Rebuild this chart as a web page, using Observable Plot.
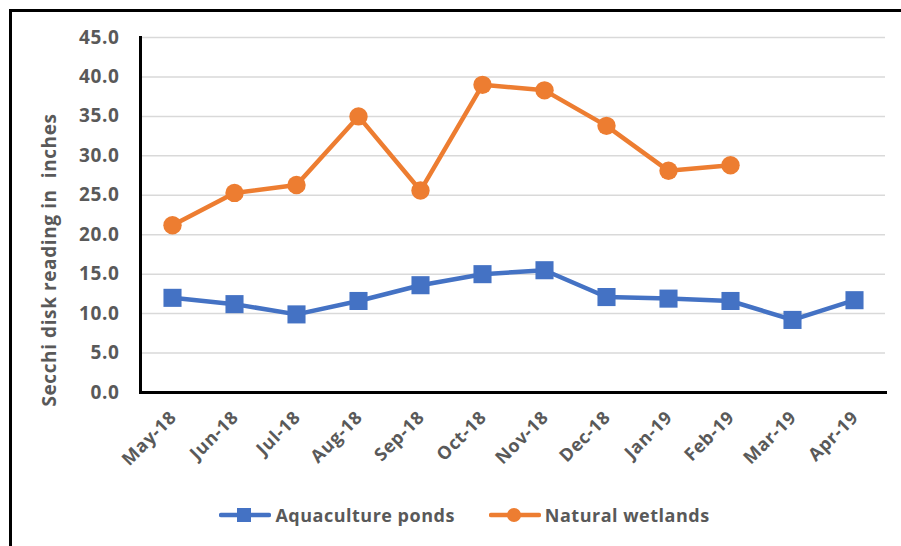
<!DOCTYPE html>
<html>
<head>
<meta charset="utf-8">
<script src="https://cdn.jsdelivr.net/npm/d3@7"></script>
<script src="https://cdn.jsdelivr.net/npm/@observablehq/plot@0.6"></script>
<style>
  html, body { margin: 0; padding: 0; background: #fff; overflow: hidden; }
  body { width: 901px; height: 546px; position: relative; font-family: "Open Sans", sans-serif; }
  #border { position: absolute; left: 9px; top: 9px; width: 1000px; height: 1000px; border: 3px solid #000; box-sizing: border-box; pointer-events: none; }
  #chart { position: absolute; left: 0; top: 0; }
  #ytitle { position: absolute; left: 49px; top: 260px; transform: translate(-50%, -50%) rotate(-90deg); white-space: pre; font-weight: 700; font-size: 19px; letter-spacing: 0.6px; color: #595959; line-height: 1; }
  #legend { position: absolute; left: 0; top: 503px; width: 901px; box-sizing: border-box; padding-left: 28px; display: flex; justify-content: center; align-items: center; font-weight: 700; font-size: 18px; letter-spacing: 0.5px; color: #595959; }
  .item { display: flex; align-items: center; }
  .item svg { margin-right: 4px; }
  svg text { font-family: "Open Sans", sans-serif; letter-spacing: 0.6px; }
</style>
</head>
<body>
<div id="chart"></div>
<div id="border"></div>
<div id="ytitle"></div>
<div id="legend"></div>
<script>
const months = ["May-18","Jun-18","Jul-18","Aug-18","Sep-18","Oct-18","Nov-18","Dec-18","Jan-19","Feb-19","Mar-19","Apr-19"];
const aquaculture = [12.0, 11.2, 9.9, 11.6, 13.6, 15.0, 15.5, 12.1, 11.9, 11.6, 9.2, 11.7];
const wetlands = [21.2, 25.3, 26.3, 35.0, 25.6, 39.0, 38.3, 33.8, 28.1, 28.8];
const yTicks = [0, 5, 10, 15, 20, 25, 30, 35, 40, 45];
const seriesNames = ["Aquaculture ponds", "Natural wetlands"];
const seriesColors = ["#4472C4", "#ED7D31"];
const yTitle = "Secchi disk reading in  inches";

const aqua = aquaculture.map((v, i) => ({month: months[i], value: v, series: seriesNames[0]}));
const wet = wetlands.map((v, i) => ({month: months[i], value: v, series: seriesNames[1]}));

const plot = Plot.plot({
  width: 901,
  height: 546,
  marginTop: 37,
  marginLeft: 140,
  marginRight: 16,
  marginBottom: 154,
  style: {fontFamily: "Open Sans, sans-serif", fontSize: "18px", fontWeight: 700, color: "#595959", background: "transparent"},
  x: {type: "point", domain: months, padding: 0.5},
  y: {domain: [0, 45]},
  marks: [
    Plot.gridY(yTicks, {stroke: "#D9D9D9", strokeOpacity: 1, strokeWidth: 1.5}),
    Plot.axisY(yTicks, {tickSize: 0, tickPadding: 21, tickFormat: d => d.toFixed(1), fill: "#595959", fontWeight: 700, fontSize: 19, label: null}),
    Plot.axisX({ticks: [], label: null}),
    Plot.text(months, {x: d => d, frameAnchor: "bottom", rotate: -45, textAnchor: "end", lineAnchor: "bottom", dx: 5, dy: 26, fill: "#595959", fontWeight: 700, fontSize: 18}),
    Plot.frame({anchor: "left", stroke: "#000", strokeWidth: 3}),
    Plot.frame({anchor: "bottom", stroke: "#000", strokeWidth: 3}),
    Plot.line(aqua, {x: "month", y: "value", stroke: seriesColors[0], strokeWidth: 4.5}),
    Plot.dot(aqua, {x: "month", y: "value", symbol: "square", fill: seriesColors[0], r: 10.2, stroke: null}),
    Plot.line(wet, {x: "month", y: "value", stroke: seriesColors[1], strokeWidth: 4.5}),
    Plot.dot(wet, {x: "month", y: "value", symbol: "circle", fill: seriesColors[1], r: 9.2, stroke: null})
  ]
});
document.getElementById("chart").appendChild(plot);
document.getElementById("ytitle").textContent = yTitle;

// legend
const legend = document.getElementById("legend");
seriesNames.forEach((name, i) => {
  const item = document.createElement("div");
  item.className = "item";
  item.style.marginRight = i === 0 ? "34px" : "0";
  const marker = i === 0
    ? `<rect x="18" y="4" width="14" height="14" fill="${seriesColors[i]}"/>`
    : `<circle cx="25" cy="11" r="7" fill="${seriesColors[i]}"/>`;
  item.innerHTML = `<svg width="52" height="22"><line x1="2" x2="50" y1="11" y2="11" stroke="${seriesColors[i]}" stroke-width="4.5" stroke-linecap="round"/>${marker}</svg><span>${name}</span>`;
  legend.appendChild(item);
});
</script>
</body>
</html>
